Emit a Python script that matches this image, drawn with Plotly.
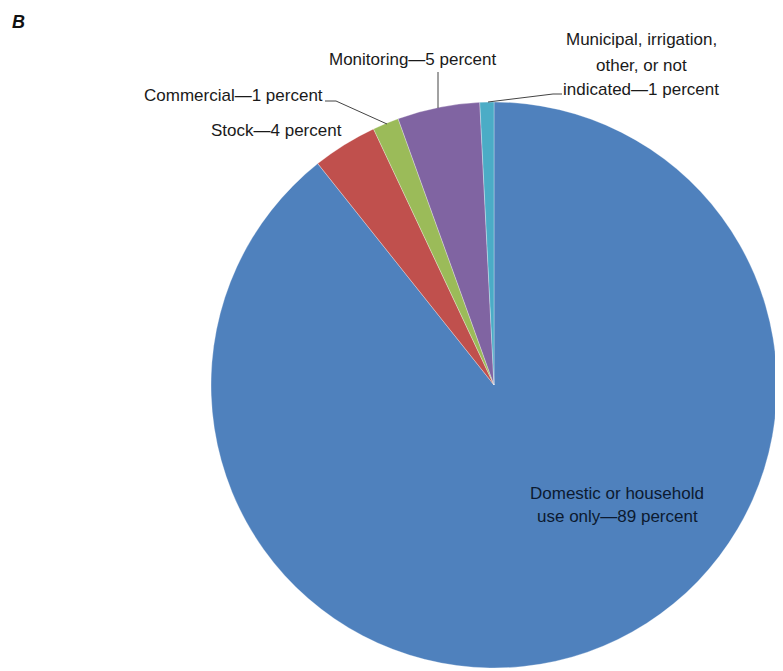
import plotly.graph_objects as go

categories = ["Domestic or household use only", "Stock", "Commercial", "Monitoring",
              "Municipal, irrigation, other, or not indicated"]
values = [89.3, 3.7, 1.5, 4.7, 0.8]
colors = ["#4F81BD", "#C0504D", "#9BBB59", "#8064A2", "#4BACC6"]

W, H = 783, 671
OFF = 8  # page body margin in the browser

def px(x):
    return (x - OFF) / W

def py(y):
    return 1 - (y - OFF) / H

fig = go.Figure(go.Pie(
    labels=categories,
    values=values,
    sort=False,
    direction="clockwise",
    rotation=0,
    textinfo="none",
    textposition="none",
    hoverinfo="label+percent",
    marker=dict(colors=colors, line=dict(color="white", width=0.3)),
    domain=dict(x=[px(211), px(777)], y=[py(669), py(101)]),
    showlegend=False,
))

font = dict(family="Liberation Sans, Arial, sans-serif", size=17, color="#1a1a1a")
inner_font = dict(family="Liberation Sans, Arial, sans-serif", size=17, color="#0c1a30")

def note(x, y, text, f=font, anchor="center"):
    return dict(x=px(x), y=py(y), xref="paper", yref="paper", text=text,
                xanchor=anchor, yanchor="middle", showarrow=False, font=f)

annotations = [
    note(10, 22, "<b><i>B</i></b>",
         dict(family="Liberation Sans, Arial, sans-serif", size=18, color="#111"), anchor="left"),
    note(413, 60, "Monitoring—5 percent"),
    note(233, 95, "Commercial—1 percent"),
    note(276, 130, "Stock—4 percent"),
    note(641, 40, "Municipal, irrigation,"),
    note(641, 65, "other, or not"),
    note(641, 90, "indicated—1 percent"),
    note(617, 493, "Domestic or household", inner_font),
    note(617, 516, "use only—89 percent", inner_font),
]

line_style = dict(color="#444444", width=1)
shapes = [
    dict(type="path", xref="paper", yref="paper",
         path=f"M {px(438)} {py(72)} L {px(438)} {py(108)}", line=line_style),
    dict(type="path", xref="paper", yref="paper",
         path=f"M {px(325)} {py(101)} L {px(336)} {py(101)} L {px(387)} {py(124)}", line=line_style),
    dict(type="path", xref="paper", yref="paper",
         path=f"M {px(488)} {py(102)} L {px(553)} {py(94)} L {px(562)} {py(94)}", line=line_style),
]

fig.update_layout(
    width=W, height=H,
    margin=dict(l=0, r=0, t=0, b=0),
    paper_bgcolor="white",
    plot_bgcolor="white",
    annotations=annotations,
    shapes=shapes,
)

fig.write_html("out.html")
